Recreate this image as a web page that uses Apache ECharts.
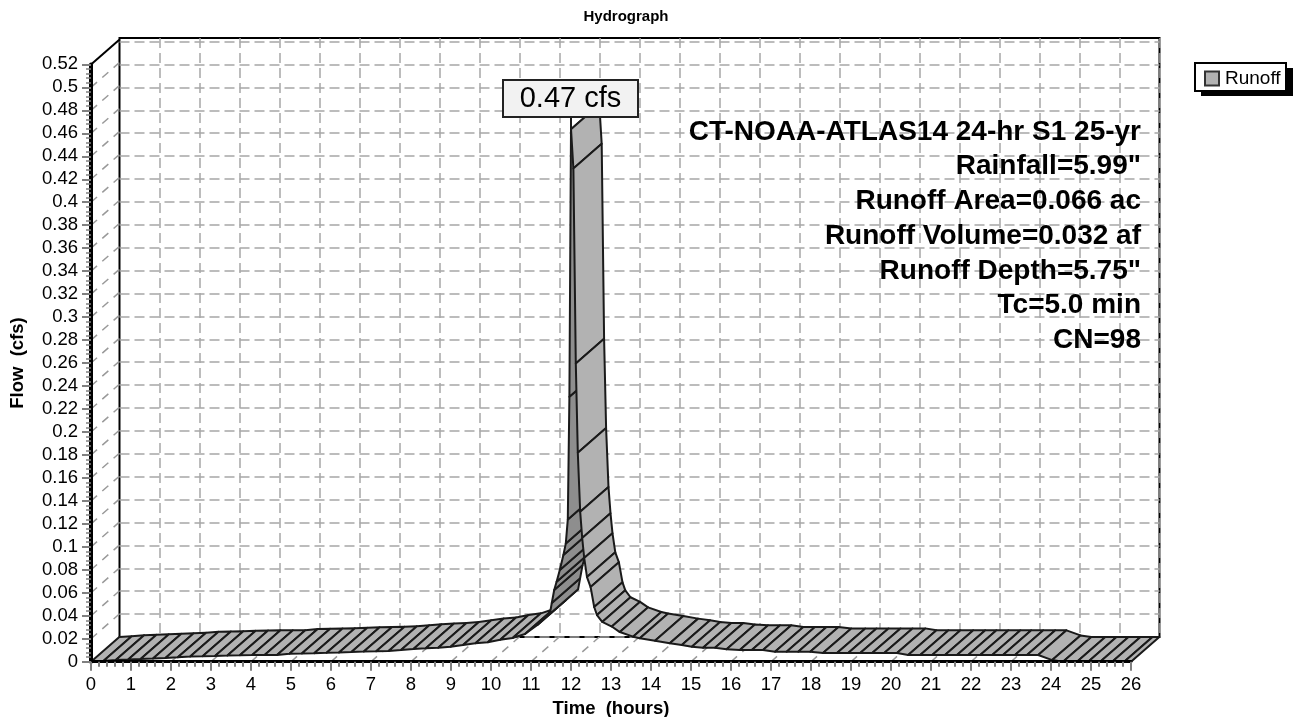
<!DOCTYPE html>
<html>
<head>
<meta charset="utf-8">
<title>Hydrograph</title>
<script src="https://cdn.jsdelivr.net/npm/echarts@6/dist/echarts.min.js"></script>
<style>
  html, body { margin: 0; padding: 0; background: #fff; }
  #chart { width: 1294px; height: 717px; }
</style>
</head>
<body>
<div id="chart"></div>
<script>
// values, one point per cross line on the ribbon
var timeHours = [
  0, 0.31, 0.62, 0.93, 1.24, 1.55, 1.86, 2.17, 2.48, 2.79, 3.1, 3.41, 3.72, 4.03, 4.34, 4.65,
  4.96, 5.27, 5.58, 5.89, 6.2, 6.51, 6.82, 7.13, 7.44, 7.75, 8.06, 8.37, 8.68, 8.99, 9.3, 9.61,
  9.92, 10.23, 10.54, 10.85, 11.16, 11.47, 11.52, 11.58, 11.64, 11.72, 11.81, 11.87, 11.92, 11.96,
  12, 12.06, 12.12, 12.17, 12.23, 12.28, 12.33, 12.4, 12.49, 12.58, 12.65, 12.78, 13.02, 13.22,
  13.55, 13.72, 14.1, 14.47, 14.77, 15.02, 15.3, 15.6, 15.89, 16.22, 16.52, 16.8, 17.1, 17.39,
  17.68, 17.98, 18.3, 18.65, 18.93, 19.23, 19.53, 19.83, 20.15, 20.43, 20.73, 21.03, 21.35, 21.65,
  21.93, 22.23, 22.53, 22.8, 23.1, 23.4, 23.68, 24.03, 24.3, 24.65, 24.93, 25.23, 25.53, 25.83, 26
]
var flowCfs = [
  0, 0.0006, 0.0015, 0.0019, 0.0023, 0.0028, 0.0032, 0.0038, 0.0045, 0.0048, 0.005, 0.0054, 0.0057, 0.0058, 0.0058, 0.0058,
  0.007, 0.0072, 0.0074, 0.0077, 0.008, 0.0084, 0.0088, 0.009, 0.0093, 0.0102, 0.011, 0.0117, 0.0121, 0.0131, 0.0145, 0.0161,
  0.017, 0.0191, 0.0206, 0.0241, 0.0319, 0.0415, 0.0511, 0.0624, 0.0696, 0.0798, 0.0929, 0.103, 0.1239, 0.2306,
  0.4636, 0.4294, 0.2597, 0.1819, 0.1305, 0.1077, 0.0903, 0.0737, 0.065, 0.0476, 0.0406, 0.0346, 0.0306, 0.0258,
  0.0218, 0.0204, 0.0183, 0.016, 0.0145, 0.0131, 0.0122, 0.0122, 0.0108, 0.0102, 0.0102, 0.0102, 0.0087, 0.0087,
  0.0087, 0.0087, 0.0075, 0.0075, 0.0075, 0.0075, 0.0075, 0.0075, 0.0075, 0.0058, 0.0058, 0.0058, 0.0058, 0.0058,
  0.0058, 0.0058, 0.0058, 0.0058, 0.0058, 0.0058, 0.0058, 0.0014, 0, 0, 0, 0, 0, 0, 0
]
var peakStemFlow = [0.4636, 0.474]
var hourTicks = [1, 2, 3, 4, 5, 6, 7, 8, 9, 10, 11, 12, 13, 14, 15, 16, 17, 18, 19, 20, 21, 22, 23, 24, 25]
var flowTicks = [0.02, 0.04, 0.06, 0.08, 0.1, 0.12, 0.14, 0.16, 0.18, 0.2, 0.22, 0.24, 0.26, 0.28, 0.3, 0.32, 0.34, 0.36, 0.38, 0.4, 0.42, 0.44, 0.46, 0.48, 0.5]
var infoLines = [
  'CT-NOAA-ATLAS14 24-hr S1 25-yr',
  'Rainfall=5.99"',
  'Runoff Area=0.066 ac',
  'Runoff Volume=0.032 af',
  'Runoff Depth=5.75"',
  'Tc=5.0 min',
  'CN=98'
]
var peakLabel = '0.47 cfs'

var FONT = '"Liberation Sans", Arial, sans-serif'
// how far the back wall sits from the front plane, in axis units
var depthHours = 0.7075
var depthCfs = 0.0215

var ribbonData = []
for (var i = 0; i < timeHours.length - 1; i++) {
  ribbonData.push([timeHours[i], flowCfs[i], timeHours[i + 1], flowCfs[i + 1]])
}
var depthData = []
hourTicks.forEach(function (h) { depthData.push([h, 0]) })
flowTicks.forEach(function (f) { depthData.push([0, f]) })

function renderRibbon(params, api) {
  var t0 = api.value(0), f0 = api.value(1), t1 = api.value(2), f1 = api.value(3)
  var a = api.coord([t0, f0])
  var b = api.coord([t1, f1])
  var c = api.coord([t1 + depthHours, f1 + depthCfs])
  var d = api.coord([t0 + depthHours, f0 + depthCfs])
  // steep rising parts show the underside of the ribbon
  var dark = (a[1] - b[1]) * (d[0] - a[0]) > (a[1] - d[1]) * (b[0] - a[0])
  return {
    type: 'polygon',
    shape: { points: [a, b, c, d] },
    style: { fill: dark ? '#8e8e8e' : '#b2b2b2', stroke: '#1a1a1a', lineWidth: 2, lineJoin: 'round' }
  }
}

function renderDepth(params, api) {
  var t = api.value(0), f = api.value(1)
  var a = api.coord([t, f])
  var b = api.coord([t + depthHours, f + depthCfs])
  return {
    type: 'line',
    shape: { x1: a[0], y1: a[1], x2: b[0], y2: b[1] },
    style: { stroke: '#999', lineWidth: 1.5, lineDash: [8, 7] }
  }
}

var graphics = [{
  // legend shadow and box, the legend itself sits on top
  type: 'rect',
  z: 1,
  shape: { x: 1201, y: 68, width: 92, height: 28 },
  style: { fill: '#000' }
}, {
  type: 'rect',
  z: 2,
  shape: { x: 1195, y: 63, width: 91, height: 28 },
  style: { fill: '#fff', stroke: '#000', lineWidth: 2 }
}, {
  type: 'rect',
  z: 100,
  shape: { x: 503, y: 80, width: 135, height: 37 },
  style: { fill: '#f2f2f2', stroke: '#222', lineWidth: 2 }
}, {
  type: 'text',
  z: 101,
  x: 570.5,
  y: 99,
  style: { text: peakLabel, font: '29px ' + FONT, fill: '#000', textAlign: 'center', textVerticalAlign: 'middle' }
}]
infoLines.forEach(function (line, idx) {
  graphics.push({
    type: 'text',
    z: 50,
    x: 1141,
    y: 132 + idx * 34.7,
    style: { text: line, font: 'bold 28px ' + FONT, fill: '#000', textAlign: 'right', textVerticalAlign: 'middle' }
  })
})

var chart = echarts.init(document.getElementById('chart'), null, { renderer: 'canvas' })
chart.setOption({
  animation: false,
  backgroundColor: '#fff',
  textStyle: { fontFamily: FONT },
  title: {
    text: 'Hydrograph',
    left: 621,
    top: 4,
    textAlign: 'center',
    textStyle: { fontFamily: FONT, fontSize: 15, fontWeight: 'bold', color: '#000' }
  },
  legend: {
    left: 1194,
    top: 62,
    padding: [7, 0, 0, 10],
    orient: 'vertical',
    z: 5,
    data: [{ name: 'Runoff', icon: 'rect' }],
    itemWidth: 14,
    itemHeight: 14,
    itemGap: 0,
    selectedMode: false,
    itemStyle: { color: '#b2b2b2', borderColor: '#333', borderWidth: 2 },
    textStyle: { fontFamily: FONT, fontSize: 19, color: '#000', padding: [0, 0, 0, 1] }
  },
  grid: [
    { left: 91, top: 64.4, width: 1040, height: 597.3, outerBoundsMode: 'none' },
    { left: 119.5, top: 38, width: 1040, height: 599, outerBoundsMode: 'none', show: true, borderColor: '#000', borderWidth: 2, backgroundColor: 'transparent' }
  ],
  xAxis: [{
    type: 'value',
    gridIndex: 0,
    min: 0,
    max: 26,
    interval: 1,
    z: 5,
    name: 'Time  (hours)',
    nameLocation: 'middle',
    nameGap: 37,
    nameTextStyle: { fontFamily: FONT, fontSize: 18.5, fontWeight: 'bold', color: '#000' },
    splitLine: { show: false },
    axisLine: { show: true, lineStyle: { color: '#000', width: 3 } },
    axisTick: { show: true, length: 9, lineStyle: { color: '#808080', width: 2 } },
    minorTick: { show: true, splitNumber: 5, length: 5, lineStyle: { color: '#808080', width: 2 } },
    axisLabel: { fontFamily: FONT, fontSize: 18.5, color: '#000', margin: 14 }
  }, {
    type: 'value',
    gridIndex: 1,
    min: 0,
    max: 26,
    interval: 1,
    axisLine: { show: false },
    axisTick: { show: false },
    axisLabel: { show: false },
    splitLine: { show: true, showMinLine: false, lineStyle: { color: '#a6a6a6', width: 1.5, type: [10, 5] } }
  }],
  yAxis: [{
    type: 'value',
    gridIndex: 0,
    min: 0,
    max: 0.52,
    interval: 0.02,
    z: 5,
    name: 'Flow  (cfs)',
    nameLocation: 'middle',
    nameGap: 64,
    nameTextStyle: { fontFamily: FONT, fontSize: 18.5, fontWeight: 'bold', color: '#000' },
    splitLine: { show: false },
    axisLine: { show: true, lineStyle: { color: '#000', width: 4 } },
    axisTick: { show: true, length: 9, lineStyle: { color: '#808080', width: 2 } },
    minorTick: { show: true, splitNumber: 5, length: 5, lineStyle: { color: '#808080', width: 1.5 } },
    axisLabel: { fontFamily: FONT, fontSize: 18.5, color: '#000', margin: 13 }
  }, {
    type: 'value',
    gridIndex: 1,
    min: 0,
    max: 0.5231,
    interval: 0.02,
    axisLine: { show: false },
    axisTick: { show: false },
    axisLabel: { show: false },
    splitLine: { show: true, showMaxLine: false, lineStyle: { color: '#a6a6a6', width: 1.5, type: [10, 5] } }
  }],
  series: [{
    name: 'depth',
    type: 'custom',
    xAxisIndex: 0,
    yAxisIndex: 0,
    coordinateSystem: 'cartesian2d',
    clip: false,
    silent: true,
    z: 1,
    data: depthData,
    renderItem: renderDepth
  }, {
    name: 'corner',
    type: 'line',
    xAxisIndex: 0,
    yAxisIndex: 0,
    clip: false,
    symbol: 'none',
    silent: true,
    z: 1,
    lineStyle: { color: '#000', width: 2 },
    data: [[0, 0.52], [depthHours, 0.52 + depthCfs]]
  }, {
    name: 'Runoff',
    type: 'custom',
    xAxisIndex: 0,
    yAxisIndex: 0,
    coordinateSystem: 'cartesian2d',
    clip: false,
    z: 3,
    itemStyle: { color: '#b2b2b2' },
    encode: { x: [0, 2], y: [1, 3] },
    data: ribbonData,
    renderItem: renderRibbon
  }, {
    name: 'peak',
    type: 'line',
    xAxisIndex: 0,
    yAxisIndex: 0,
    symbol: 'none',
    silent: true,
    z: 3,
    lineStyle: { color: '#1a1a1a', width: 2 },
    data: [[12, peakStemFlow[0]], [12, peakStemFlow[1]]]
  }],
  graphic: graphics
})
</script>
</body>
</html>
